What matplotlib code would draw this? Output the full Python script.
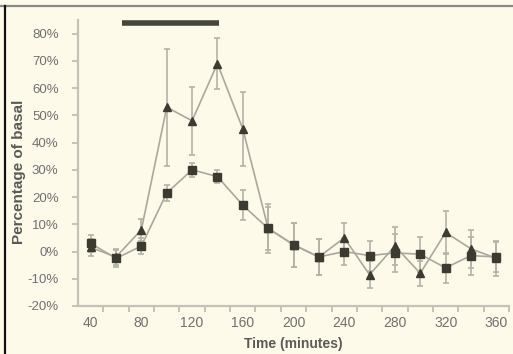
import matplotlib
matplotlib.use("Agg")
import matplotlib.pyplot as plt
from matplotlib.lines import Line2D
import numpy as np

# time points (minutes)
times = [40, 60, 80, 100, 120, 140, 160, 180, 200, 220, 240, 260, 280, 300, 320, 340, 360]

# triangle series (% of basal) and SEM
tri_vals = [1.5, -2, 8, 53, 48, 69, 45, 8.5, 2.5, -2, 5, -8.5, 2, -8, 7, 1, -2.5]
tri_err = [3, 3, 4, 21.5, 12.5, 9.5, 13.5, 9, 8, 6.5, 5.5, 5, 7, 4.5, 8, 7, 6.5]

# square series (% of basal) and SEM
sq_vals = [3, -2.5, 2, 21.5, 30, 27.5, 17, 8.5, 2.5, -2, 0, -1.5, -0.5, -1, -6, -1.5, -2]
sq_err = [3, 3, 3, 3, 2.5, 2.5, 5.5, 8, 8, 6.5, 5, 5.5, 7, 6.5, 5.5, 7, 5.5]

# stimulation period bar
bar_start, bar_end, bar_level = 65, 141, 83.8

x_ticks = [40, 80, 120, 160, 200, 240, 280, 320, 360]
y_ticks = [-20, -10, 0, 10, 20, 30, 40, 50, 60, 70, 80]

BG = '#fdfaea'
LINE = '#a9a89c'
MARK = '#3b3b32'
TEXT = '#707070'

plt.rcParams['font.family'] = ['Liberation Sans', 'DejaVu Sans']

fig = plt.figure(figsize=(5.13, 3.54), dpi=100, facecolor=BG)
ax = fig.add_axes([78 / 513, 48 / 354, 431 / 513, 286 / 354], facecolor=BG)

ax.errorbar(times, tri_vals, yerr=tri_err, color=LINE, lw=1.2, ecolor='#b3b2a6',
            elinewidth=1.2, capsize=2.5, capthick=1.2, marker='^', ms=6,
            mfc=MARK, mec=MARK, zorder=3)
ax.errorbar(times, sq_vals, yerr=sq_err, color=LINE, lw=1.2, ecolor='#b3b2a6',
            elinewidth=1.2, capsize=2.5, capthick=1.2, marker='s', ms=6,
            mfc=MARK, mec=MARK, zorder=3)

ax.plot([bar_start, bar_end], [bar_level, bar_level], color='#46463a', lw=4,
        solid_capstyle='butt', clip_on=False)

ax.set_xlim(30, 370)
ax.set_ylim(-20, 85)
ax.set_xticks(x_ticks)
ax.set_xticks(np.arange(50, 371, 20), minor=True)
ax.set_yticks(y_ticks)
ax.set_yticklabels([f'{v}%' for v in y_ticks])

for s in ['top', 'right']:
    ax.spines[s].set_visible(False)
for s in ['left', 'bottom']:
    ax.spines[s].set_color('#c4c3b6')
    ax.spines[s].set_linewidth(1.6)

ax.tick_params(axis='x', which='major', length=0, labelsize=10, colors=TEXT, pad=7)
ax.tick_params(axis='x', which='minor', length=4, width=1.4, color='#c4c3b6')
ax.tick_params(axis='y', length=4, width=1.4, color='#c4c3b6', labelsize=9.5,
               labelcolor=TEXT, pad=10)

ax.set_xlabel('Time (minutes)', fontsize=10, fontweight='bold', color='#5a5a56', labelpad=5)
ax.set_ylabel('Percentage of basal', fontsize=11, fontweight='bold', color='#5a5a56')
ax.yaxis.set_label_coords(-52 / 431, 0.47)

# frame lines at top and left of picture
fig.add_artist(Line2D([0, 1], [1 - 5.5 / 354] * 2, color='#8a8a86', lw=1.6))
fig.add_artist(Line2D([4.5 / 513] * 2, [0, 1 - 5.5 / 354], color='#111111', lw=1.6))

fig.savefig('out.png', dpi=100, facecolor=BG)
